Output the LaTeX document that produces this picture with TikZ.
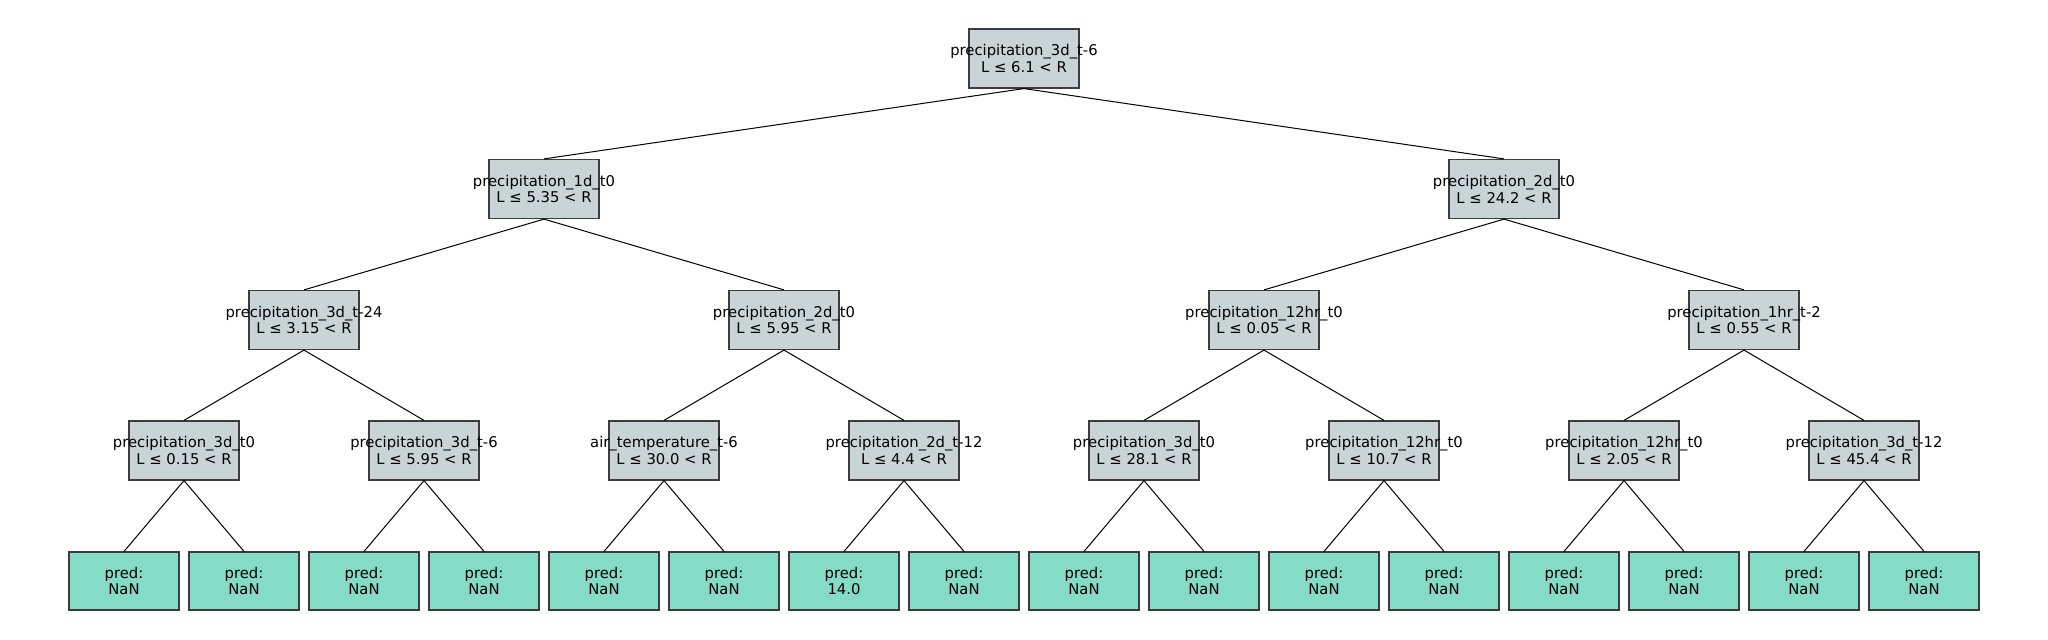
\documentclass[tikz,border=0pt]{standalone}
\usepackage{fontspec}
\setmainfont{DejaVu Sans}
\definecolor{inner}{RGB}{200,212,214}
\definecolor{leaf}{RGB}{132,220,198}
\definecolor{edgec}{RGB}{60,60,60}
\tikzset{
  ibox/.style={draw=edgec, line width=0.6pt, fill=inner, minimum width=55pt, minimum height=29.5pt, inner sep=0pt},
  lbox/.style={draw=edgec, line width=0.6pt, fill=leaf, minimum width=55pt, minimum height=29pt, inner sep=0pt},
  txt/.style={align=center, inner sep=0pt, font=\fontsize{7.4pt}{8.4pt}\selectfont},
  conn/.style={line width=0.5pt, black}
}
\newcommand{\inode}[4]{\node[ibox] (#1) at (#2,#3) {}; \node[txt] (#1t) at (#1.center) {#4};}
\newcommand{\lnode}[4]{\node[lbox] (#1) at (#2,#3) {}; \node[txt] (#1t) at (#1.center) {#4};}
\begin{document}
\begin{tikzpicture}[x=0.5pt,y=-0.5pt]
\fill[white] (0,0) rectangle (2048,640);
\useasboundingbox (0,0) rectangle (2048,640);
% root
\inode{r}{1024}{58.5}{precipitation\_3d\_t-6\\L ≤ 6.1 < R}
% level 1
\inode{a}{544}{189}{precipitation\_1d\_t0\\L ≤ 5.35 < R}
\inode{b}{1504}{189}{precipitation\_2d\_t0\\L ≤ 24.2 < R}
% level 2
\inode{aa}{304}{320}{precipitation\_3d\_t-24\\L ≤ 3.15 < R}
\inode{ab}{784}{320}{precipitation\_2d\_t0\\L ≤ 5.95 < R}
\inode{ba}{1264}{320}{precipitation\_12hr\_t0\\L ≤ 0.05 < R}
\inode{bb}{1744}{320}{precipitation\_1hr\_t-2\\L ≤ 0.55 < R}
% level 3
\inode{aaa}{184}{450.5}{precipitation\_3d\_t0\\L ≤ 0.15 < R}
\inode{aab}{424}{450.5}{precipitation\_3d\_t-6\\L ≤ 5.95 < R}
\inode{aba}{664}{450.5}{air\_temperature\_t-6\\L ≤ 30.0 < R}
\inode{abb}{904}{450.5}{precipitation\_2d\_t-12\\L ≤ 4.4 < R}
\inode{baa}{1144}{450.5}{precipitation\_3d\_t0\\L ≤ 28.1 < R}
\inode{bab}{1384}{450.5}{precipitation\_12hr\_t0\\L ≤ 10.7 < R}
\inode{bba}{1624}{450.5}{precipitation\_12hr\_t0\\L ≤ 2.05 < R}
\inode{bbb}{1864}{450.5}{precipitation\_3d\_t-12\\L ≤ 45.4 < R}
% leaves
\lnode{l1}{124}{581}{pred:\\NaN}
\lnode{l2}{244}{581}{pred:\\NaN}
\lnode{l3}{364}{581}{pred:\\NaN}
\lnode{l4}{484}{581}{pred:\\NaN}
\lnode{l5}{604}{581}{pred:\\NaN}
\lnode{l6}{724}{581}{pred:\\NaN}
\lnode{l7}{844}{581}{pred:\\14.0}
\lnode{l8}{964}{581}{pred:\\NaN}
\lnode{l9}{1084}{581}{pred:\\NaN}
\lnode{l10}{1204}{581}{pred:\\NaN}
\lnode{l11}{1324}{581}{pred:\\NaN}
\lnode{l12}{1444}{581}{pred:\\NaN}
\lnode{l13}{1564}{581}{pred:\\NaN}
\lnode{l14}{1684}{581}{pred:\\NaN}
\lnode{l15}{1804}{581}{pred:\\NaN}
\lnode{l16}{1924}{581}{pred:\\NaN}
% connectors
\foreach \p/\c in {r/a,r/b,a/aa,a/ab,b/ba,b/bb,aa/aaa,aa/aab,ab/aba,ab/abb,ba/baa,ba/bab,bb/bba,bb/bbb,
  aaa/l1,aaa/l2,aab/l3,aab/l4,aba/l5,aba/l6,abb/l7,abb/l8,baa/l9,baa/l10,bab/l11,bab/l12,bba/l13,bba/l14,bbb/l15,bbb/l16}
  \draw[conn] (\p.south) -- (\c.north);
\end{tikzpicture}
\end{document}
